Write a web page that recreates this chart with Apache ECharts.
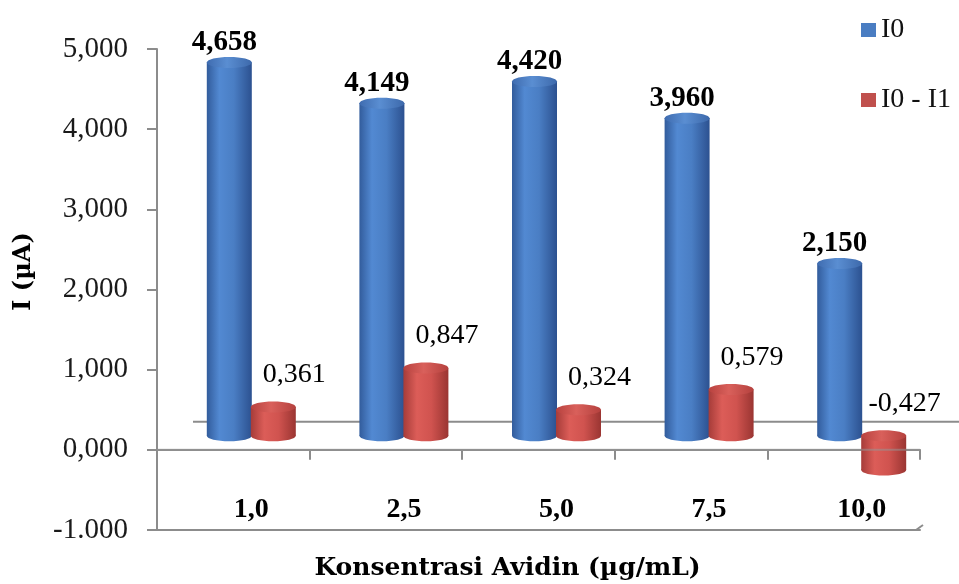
<!DOCTYPE html>
<html>
<head>
<meta charset="utf-8">
<script src="https://cdn.jsdelivr.net/npm/echarts@6/dist/echarts.min.js"></script>
<style>
  html, body { margin: 0; padding: 0; background: #ffffff; }
  #chart { width: 959px; height: 584px; }
</style>
</head>
<body>
<div id="chart"></div>
<script>
// Concentrations of avidin (µg/mL) on the category axis
const categories = ['1,0', '2,5', '5,0', '7,5', '10,0'];
const seriesNames = ['I0', 'I0 - I1'];
// Peak currents I0 and the drop I0 - I1 (µA)
const i0Values = [4.658, 4.149, 4.420, 3.960, 2.150];
const diffValues = [0.361, 0.847, 0.324, 0.579, -0.427];
// Value axis
const yTickLabels = ['-1.000', '0,000', '1,000', '2,000', '3,000', '4,000', '5,000'];
const yMin = -1, yMax = 5, yStep = 1;

const SERIF = '"Liberation Serif", "Times New Roman", serif';
const WIDE_SERIF = '"DejaVu Serif", serif';
const AXIS_GREY = '#8c8c8c';

// pseudo-3D floor: the back edge sits DEPTH_X right / DEPTH_Y up of the front edge
const DEPTH_X = 36, DEPTH_Y = -28;
const BAR_W = 45, BAR_RY = 5.5, PAIR_SHIFT = 22;

function fmt(v) { return v.toFixed(3).replace('.', ','); }

function hGrad(stops) {
  return { type: 'linear', x: 0, y: 0, x2: 1, y2: 0, global: false,
    colorStops: stops.map(s => ({ offset: s[0], color: s[1] })) };
}

const palettes = {
  blue: {
    solid: '#4a7dc2',
    side: hGrad([[0, '#325c9c'], [0.28, '#5289d2'], [0.6, '#4a7ec4'], [1, '#2c5190']]),
    top: hGrad([[0, '#3f6cb0'], [0.45, '#5a8ed2'], [1, '#3d69ab']])
  },
  red: {
    solid: '#c0504d',
    side: hGrad([[0, '#a63c39'], [0.3, '#dc5d58'], [0.62, '#d0534f'], [1, '#9a3532']]),
    top: hGrad([[0, '#b8423f'], [0.45, '#d9605b'], [1, '#b5413e']])
  }
};

// Cylinder drawn at mid-depth of the floor, value label placed by the given rule
function cylinder(shiftX, pal, label) {
  return function (params, api) {
    const i = api.value(0), v = api.value(1);
    const base = api.coord([i, 0]);
    const tip = api.coord([i, v]);
    const cx = base[0] + DEPTH_X / 2 + shiftX;
    const y0 = base[1] + DEPTH_Y / 2;
    const y1 = tip[1] + DEPTH_Y / 2;
    const yt = Math.min(y0, y1), yb = Math.max(y0, y1);
    const rx = BAR_W / 2;
    return {
      type: 'group',
      children: [
        { type: 'rect', shape: { x: cx - rx, y: yt, width: BAR_W, height: yb - yt }, style: { fill: pal.side } },
        { type: 'ellipse', shape: { cx: cx, cy: yb, rx: rx, ry: BAR_RY }, style: { fill: pal.side } },
        { type: 'ellipse', shape: { cx: cx, cy: yt, rx: rx, ry: BAR_RY }, style: { fill: pal.top } },
        {
          type: 'text',
          x: cx + label.dx,
          y: yt + label.dy,
          style: {
            text: fmt(v), fill: '#000', align: 'center', verticalAlign: 'middle',
            font: label.font
          }
        }
      ]
    };
  };
}

const chart = echarts.init(document.getElementById('chart'), null, { renderer: 'canvas' });

chart.setOption({
  animation: false,
  backgroundColor: '#ffffff',
  grid: { left: 157, right: 39, top: 49, bottom: 54, containLabel: false, outerBoundsMode: 'none' },
  legend: {
    orient: 'vertical', left: 856, top: 11,
    itemWidth: 15, itemHeight: 14, itemGap: 42, icon: 'rect',
    textStyle: { fontFamily: SERIF, fontSize: 28, color: '#111' },
    data: [
      { name: seriesNames[0], itemStyle: { color: palettes.blue.solid } },
      { name: seriesNames[1], itemStyle: { color: palettes.red.solid } }
    ]
  },
  xAxis: [
    {
      // floor front edge at zero, with the category separators
      type: 'category', data: categories, position: 'bottom',
      axisLine: { onZero: true, lineStyle: { color: AXIS_GREY, width: 2 } },
      axisTick: { show: true, length: 10, lineStyle: { color: AXIS_GREY, width: 2 } },
      axisLabel: { show: false },
      splitLine: { show: false }
    },
    {
      // base frame with the category labels and the axis title
      type: 'category', data: categories, position: 'bottom',
      axisLine: { onZero: false, lineStyle: { color: AXIS_GREY, width: 2 } },
      axisTick: { show: false }, splitLine: { show: false },
      axisLabel: {
        margin: -34, padding: [0, 0, 0, 36],
        fontFamily: SERIF, fontWeight: 'bold', fontSize: 28, color: '#000'
      },
      name: 'Konsentrasi Avidin (µg/mL)', nameLocation: 'middle', nameGap: 26,
      nameTextStyle: { fontFamily: WIDE_SERIF, fontWeight: 'bold', fontSize: 25, color: '#000', padding: [0, 62, 0, 0] }
    }
  ],
  yAxis: {
    type: 'value', min: yMin, max: yMax, interval: yStep,
    axisLine: { show: true, lineStyle: { color: AXIS_GREY, width: 2 } },
    axisTick: { show: true, length: 10, lineStyle: { color: AXIS_GREY, width: 2 } },
    splitLine: { show: false },
    axisLabel: {
      margin: 29, fontFamily: SERIF, fontSize: 29, color: '#1a1a1a',
      formatter: v => yTickLabels[Math.round((v - yMin) / yStep)]
    },
    name: 'I (µA)', nameLocation: 'middle', nameGap: 121, nameRotate: 90,
    nameTextStyle: { fontFamily: WIDE_SERIF, fontWeight: 'bold', fontSize: 24, color: '#000', padding: [0, 0, 0, 36] }
  },
  series: [
    {
      // back edge of the floor and the corner of the base frame
      name: 'frame', type: 'custom', z: 1, silent: true,
      data: [[0, 0]],
      renderItem: function (params, api) {
        const cs = params.coordSys;
        const zeroY = api.coord([0, 0])[1];
        const bottom = cs.y + cs.height, right = cs.x + cs.width;
        const st = { stroke: AXIS_GREY, lineWidth: 2 };
        return {
          type: 'group',
          children: [
            { type: 'line', shape: { x1: cs.x + DEPTH_X, y1: zeroY + DEPTH_Y, x2: api.getWidth(), y2: zeroY + DEPTH_Y }, style: st },
            { type: 'line', shape: { x1: right - 4, y1: bottom, x2: right + 3, y2: bottom - 5 }, style: st }
          ]
        };
      }
    },
    {
      name: seriesNames[0], type: 'custom', z: 3,
      itemStyle: { color: palettes.blue.solid },
      encode: { x: 0, y: 1 },
      data: i0Values.map((v, i) => [i, v]),
      renderItem: cylinder(-PAIR_SHIFT, palettes.blue, { dx: -5, dy: -20, font: 'bold 29px ' + SERIF })
    },
    {
      name: seriesNames[1], type: 'custom', z: 3,
      itemStyle: { color: palettes.red.solid },
      encode: { x: 0, y: 1 },
      data: diffValues.map((v, i) => [i, v]),
      renderItem: cylinder(PAIR_SHIFT, palettes.red, { dx: 21, dy: -32, font: '28px ' + SERIF })
    },
    {
      // front edge of the floor showing through bars that drop below zero
      name: 'frameFront', type: 'custom', z: 5, silent: true,
      data: [[0, 0]],
      renderItem: function (params, api) {
        const cs = params.coordSys;
        const zeroY = api.coord([0, 0])[1];
        return {
          type: 'line',
          shape: { x1: cs.x, y1: zeroY, x2: cs.x + cs.width, y2: zeroY },
          style: { stroke: 'rgba(150,150,150,0.55)', lineWidth: 2 }
        };
      }
    }
  ]
});
</script>
</body>
</html>
